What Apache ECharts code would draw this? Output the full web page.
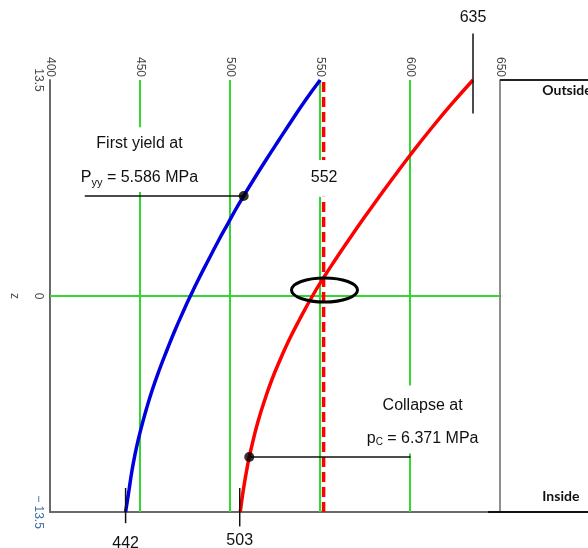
<!DOCTYPE html>
<html>
<head>
<meta charset="utf-8">
<script src="https://cdn.jsdelivr.net/npm/echarts@6/dist/echarts.min.js"></script>
<style>
html,body{margin:0;padding:0;background:#fff;}
#chart{width:588px;height:548px;}
</style>
</head>
<body>
<div id="chart"></div>
<script>
// ---- data ----
const valueTicks = [400, 450, 500, 550, 600, 650];
const zTicks = [-13.5, 0, 13.5];
const greenGridValues = [450, 500, 550, 600];
const greenGridZ = [0];
const blueValues = [442, 443.9, 445.6, 447.4, 449.0, 451.1, 453.4, 456.8, 460.7, 465.0, 469.5, 474.4, 478.0,
                    482.3, 488.0, 493.8, 499.0, 503.0, 507.6, 513.0, 520.0, 527.2, 534.5, 542.0, 550.1];
const blueZ      = [-13.5, -12.125, -10.875, -9.81, -9.0, -8.06, -7.125, -5.875, -4.625, -3.375, -2.125, -0.875, 0,
                    1.0, 2.25, 3.5, 4.56, 5.375, 6.25, 7.25, 8.5, 9.75, 11.0, 12.25, 13.5];
const redValues  = [505.7, 507.4, 509.3, 510.7, 512.9, 515.8, 519.3, 523.2, 527.8, 532.8, 538.5, 545.8,
                    551.9, 558.4, 565.9, 573.6, 581.6, 589.7, 601.0, 611.1, 622.7, 635];
const redZ       = [-13.5, -12.125, -10.875, -10.06, -9.0, -7.75, -6.5, -5.25, -4.0, -2.75, -1.5, 0,
                    1.125, 2.25, 3.5, 4.75, 6.0, 7.25, 8.94, 10.375, 11.94, 13.5];
const dashedValue = 552;
const firstYield = [507.6, 6.25];
const collapse = [510.7, -10.06];
const firstYieldLeaderEnd = 419.3;
const collapseLeaderEnd = 600.3;
const markerValues = [442, 505.4, 635];
const markerLabels = ['442', '503', '635'];
const markerZ = [[-12, -14.2], [-12, -14.4], [16.4, 11.4]];
const outsideRange = [650, 700];
const insideRange = [643.4, 700];

const chart = echarts.init(document.getElementById('chart'));

const GREEN = '#33d633';
const series = [];
greenGridValues.forEach(v => series.push({
  type: 'line', data: [[v, -13.5], [v, 13.5]], symbol: 'none', silent: true, z: 1,
  lineStyle: { color: GREEN, width: 2 }
}));
greenGridZ.forEach(z => series.push({
  type: 'line', data: [[400, z], [650, z]], symbol: 'none', silent: true, z: 1,
  lineStyle: { color: GREEN, width: 2 }
}));
series.push({
  type: 'line', data: [[dashedValue, -13.5], [dashedValue, 13.5]], symbol: 'none', z: 2,
  lineStyle: { color: '#ff0000', width: 3.5, type: [10, 5] }
});
series.push({
  type: 'line', data: blueValues.map((v, i) => [v, blueZ[i]]), symbol: 'none', smooth: 0.5, z: 3,
  lineStyle: { color: '#0000dd', width: 3.5 }
});
series.push({
  type: 'line', data: redValues.map((v, i) => [v, redZ[i]]), symbol: 'none', smooth: 0.5, z: 3,
  lineStyle: { color: '#ff0000', width: 3.5 }
});
series.push({
  type: 'line', data: [[firstYieldLeaderEnd, firstYield[1]], firstYield], symbol: 'none', z: 4,
  lineStyle: { color: '#111', width: 1.5 }
});
series.push({
  type: 'line', data: [collapse, [collapseLeaderEnd, collapse[1]]], symbol: 'none', z: 4,
  lineStyle: { color: '#111', width: 1.5 }
});
series.push({
  type: 'scatter', data: [firstYield, collapse], symbolSize: 10, z: 5,
  itemStyle: { color: '#000' }
});
markerValues.forEach((v, i) => series.push({
  type: 'line', data: [[v, markerZ[i][0]], [v, markerZ[i][1]]], symbol: 'none', clip: false, z: 6,
  lineStyle: { color: '#111', width: 1.5 }
}));

const option = {
  animation: false,
  backgroundColor: '#fff',
  grid: { left: 47, top: 80, width: 453, height: 432 },
  xAxis: [{
    type: 'value', position: 'top', min: valueTicks[0], max: valueTicks[valueTicks.length - 1], interval: 50,
    axisLine: { show: true, lineStyle: { color: '#6a6a6a', width: 2 } },
    axisTick: { show: false }, splitLine: { show: false },
    axisLabel: { rotate: -90, fontSize: 12, color: '#4a4a4a', margin: 3, fontFamily: 'Liberation Sans' }
  }, {
    type: 'value', position: 'bottom', min: 400, max: 650,
    axisLine: { show: true, onZero: false, lineStyle: { color: '#6a6a6a', width: 2 } },
    axisTick: { show: false }, splitLine: { show: false }, axisLabel: { show: false }
  }],
  yAxis: [{
    type: 'value', min: zTicks[0], max: zTicks[zTicks.length - 1], interval: 13.5,
    name: 'z', nameLocation: 'middle', nameGap: 30, nameRotate: -90,
    nameTextStyle: { fontSize: 12, color: '#4a4a4a', fontFamily: 'Liberation Sans' },
    axisLine: { show: true, onZero: false, lineStyle: { color: '#6a6a6a', width: 2 } },
    axisTick: { show: false }, splitLine: { show: false },
    axisLabel: {
      rotate: -90, fontSize: 12, color: '#4a4a4a', margin: 6, fontFamily: 'Liberation Sans',
      formatter: v => v < 0 ? '{neg|\u2212 ' + Math.abs(v) + '}' : String(v),
      rich: { neg: { color: '#3b6ea8', fontSize: 12, fontFamily: 'Liberation Sans' } }
    }
  }, {
    type: 'value', position: 'right', min: -13.5, max: 13.5,
    axisLine: { show: true, onZero: false, lineStyle: { color: '#6a6a6a', width: 1.5 } },
    axisTick: { show: false }, splitLine: { show: false }, axisLabel: { show: false }
  }],
  series: series
};
chart.setOption(option);

const px = p => chart.convertToPixel({ xAxisIndex: 0, yAxisIndex: 0 }, p);
const F = 'Liberation Sans';
const txt = (p, text, extra) => ({
  type: 'text', x: p[0], y: p[1], z: 100,
  style: Object.assign({ text: text, font: '16px ' + F, fill: '#111', align: 'center', verticalAlign: 'middle' }, extra || {})
});
const box = (x1, y1, x2, y2) => ({ type: 'rect', z: 90, shape: { x: x1, y: y1, width: x2 - x1, height: y2 - y1 }, style: { fill: '#fff' } });

const graphics = [];
// white boxes behind the annotation texts
const fyTop = px([410, 10.55]), fyBot = px([470, 6.5]);
graphics.push(box(fyTop[0], fyTop[1], fyBot[0], fyBot[1]));
const b552a = px([548.5, 8.5]), b552b = px([556, 6.2]);
graphics.push(box(b552a[0], b552a[1], b552b[0], b552b[1]));
const colA = px([583, -5.6]), colB = px([632, -9.85]);
graphics.push(box(colA[0], colA[1], colB[0], colB[1]));

graphics.push(txt(px([449.7, 9.5]), 'First yield at'));
const py = px([449.7, 7.4]);
graphics.push({
  type: 'text', x: py[0], y: py[1], z: 100,
  style: {
    text: '{b|P}{s|yy}{b| = 5.586 MPa}', align: 'center', verticalAlign: 'middle', fill: '#111',
    rich: { b: { font: '16px ' + F, fill: '#111' }, s: { font: '11px ' + F, fill: '#111', padding: [10, 0, 0, 0] } }
  }
});
graphics.push(txt(px([552.3, 7.4]), '552'));
graphics.push(txt(px([607, -6.85]), 'Collapse at'));
const pc = px([607, -8.9]);
graphics.push({
  type: 'text', x: pc[0], y: pc[1], z: 100,
  style: {
    text: '{b|p}{s|C}{b| = 6.371 MPa}', align: 'center', verticalAlign: 'middle', fill: '#111',
    rich: { b: { font: '16px ' + F, fill: '#111' }, s: { font: '10px ' + F, fill: '#111', padding: [8, 0, 0, 0] } }
  }
});
// marker labels
graphics.push(txt(px([markerValues[0], -15.5]), markerLabels[0]));
graphics.push(txt(px([markerValues[1], -15.3]), markerLabels[1]));
graphics.push(txt(px([markerValues[2], 17.4]), markerLabels[2]));
// Outside / Inside lines and labels
const o1 = px([outsideRange[0], 13.5]), o2 = px([outsideRange[1], 13.5]);
graphics.push({ type: 'line', z: 95, shape: { x1: o1[0], y1: o1[1], x2: o2[0], y2: o2[1] }, style: { stroke: '#222', lineWidth: 2 } });
const i1 = px([insideRange[0], -13.5]), i2 = px([insideRange[1], -13.5]);
graphics.push({ type: 'line', z: 95, shape: { x1: i1[0], y1: i1[1], x2: i2[0], y2: i2[1] }, style: { stroke: '#111', lineWidth: 2 } });
graphics.push(txt(px([673.5, 12.85]), 'Outside', { font: 'bold 14px Lato', align: 'left' }));
graphics.push(txt(px([673.5, -12.56]), 'Inside', { font: 'bold 14px Lato', align: 'left' }));
// ellipse
const ec = px([552.5, 0.375]);
graphics.push({ type: 'ellipse', z: 100, shape: { cx: ec[0], cy: ec[1], rx: 33, ry: 12 }, style: { fill: 'none', stroke: '#000', lineWidth: 3 } });

chart.setOption({ graphic: graphics });
</script>
</body>
</html>
